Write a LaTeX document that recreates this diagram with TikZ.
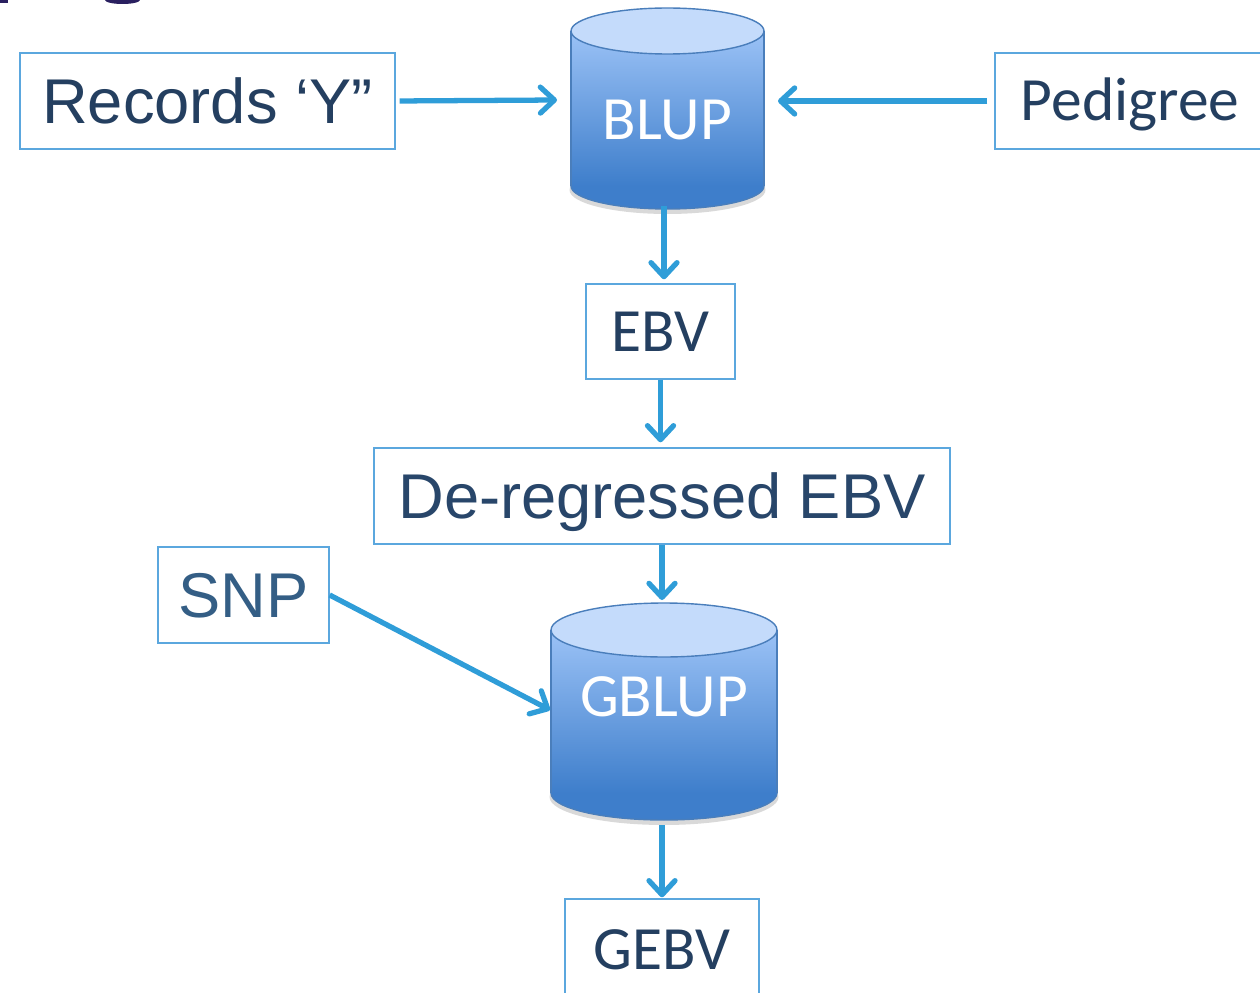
\documentclass[tikz,border=0pt]{standalone}
\usepackage{fontspec}
\setmainfont{Liberation Sans}
\newfontfamily\calib{Carlito}
\usetikzlibrary{arrows.meta}
\definecolor{navy}{RGB}{36,63,96}
\definecolor{deregblue}{RGB}{40,70,106}
\definecolor{snpblue}{RGB}{52,94,133}
\definecolor{boxblue}{RGB}{91,167,222}
\definecolor{arrblue}{RGB}{47,157,216}
\definecolor{cyltop}{RGB}{155,194,246}
\definecolor{cylbot}{RGB}{62,126,203}
\definecolor{cylcap}{RGB}{196,219,251}
\definecolor{cyledge}{RGB}{74,126,187}
\definecolor{titlepurple}{RGB}{42,32,96}
\begin{document}
\begin{tikzpicture}[x=0.02cm,y=-0.02cm,
  box/.style={draw=boxblue,line width=0.8pt,fill=white,inner sep=0pt,text depth=0pt,text=navy},
  arial/.style={font=\fontsize{36}{40}\selectfont,text height=25.8pt},
  calb/.style={font=\calib\fontsize{35}{40}\selectfont,text height=22.5pt},
  cyltext/.style={calb,text=white,inner sep=0pt,text depth=0pt},
  arr/.style={draw=arrblue,line width=3pt,-{Straight Barb[length=2.8mm,width=5.2mm,round]}}]
\useasboundingbox (0,0) rectangle (1260,993);
%\draw[help lines,step=2cm] (0,0) grid (1260,993);
\fill[titlepurple] (0,0) rectangle (8,3);
\fill[titlepurple] (122.5,0) ellipse [x radius=0.35cm,y radius=0.08cm];
% boxes
\node[box,arial,minimum width=7.5cm,minimum height=1.92cm] (rec) at (207.5,101) {Records ‘Y”};
\node[box,calb,minimum width=5.4cm,minimum height=1.92cm] (ped) at (1130,101) {Pedigree};
\node[box,calb,minimum width=2.98cm,minimum height=1.9cm] (ebv) at (660.5,331.5) {EBV};
\node[box,arial,minimum width=11.52cm,minimum height=1.92cm,text=deregblue] (dereg) at (662,496) {De-regressed EBV};
\node[box,arial,minimum width=3.42cm,minimum height=1.92cm,text=snpblue] (snp) at (243.5,595) {SNP};
\node[box,calb,minimum width=3.88cm,minimum height=2.04cm] (gebv) at (662,950) {GEBV};
% BLUP cylinder
\fill[black,opacity=0.15] (667.5,190) ellipse [x radius=1.96cm,y radius=0.48cm];
\filldraw[fill=cylbot,draw=cyledge,line width=0.8pt] (667.5,186) ellipse [x radius=1.93cm,y radius=0.46cm];
\shade[top color=cyltop,bottom color=cylbot] (571,31) rectangle (764,186);
\draw[cyledge,line width=0.8pt] (571,31) -- (571,186) (764,31) -- (764,186);
\filldraw[fill=cylcap,draw=cyledge,line width=0.8pt] (667.5,31) ellipse [x radius=1.93cm,y radius=0.46cm];
\node[cyltext] (blup) at (667.5,120) {BLUP};
% GBLUP cylinder
\fill[black,opacity=0.15] (664,797) ellipse [x radius=2.29cm,y radius=0.56cm];
\filldraw[fill=cylbot,draw=cyledge,line width=0.8pt] (664,793) ellipse [x radius=2.26cm,y radius=0.54cm];
\shade[top color=cyltop,bottom color=cylbot] (551,630) rectangle (777,793);
\draw[cyledge,line width=0.8pt] (551,630) -- (551,793) (777,630) -- (777,793);
\filldraw[fill=cylcap,draw=cyledge,line width=0.8pt] (664,630) ellipse [x radius=2.26cm,y radius=0.54cm];
\node[cyltext] (gblup) at (664,697) {GBLUP};
% arrow ends on the cylinders
\coordinate (blup-w) at (557,100);
\coordinate (blup-e) at (778,101);
\coordinate (blup-s) at (664,206);
\coordinate (gblup-n) at (662,600);
\coordinate (gblup-w) at (550,710);
\coordinate (gblup-s) at (662,825);
% arrows
\draw[arr,shorten <=0.08cm] (rec.east) -- (blup-w);
\draw[arr,shorten <=0.14cm] (ped.west) -- (blup-e);
\draw[arr,shorten >=0.08cm] (blup-s) -- (blup-s |- ebv.north);
\draw[arr,shorten >=0.1cm] (ebv.south) -- (ebv.south |- dereg.north);
\draw[arr] (dereg.south) -- (gblup-n);
\draw[arr] (snp.east) -- (gblup-w);
\draw[arr,shorten >=0.02cm] (gblup-s) -- (gebv.north);
\end{tikzpicture}
\end{document}
